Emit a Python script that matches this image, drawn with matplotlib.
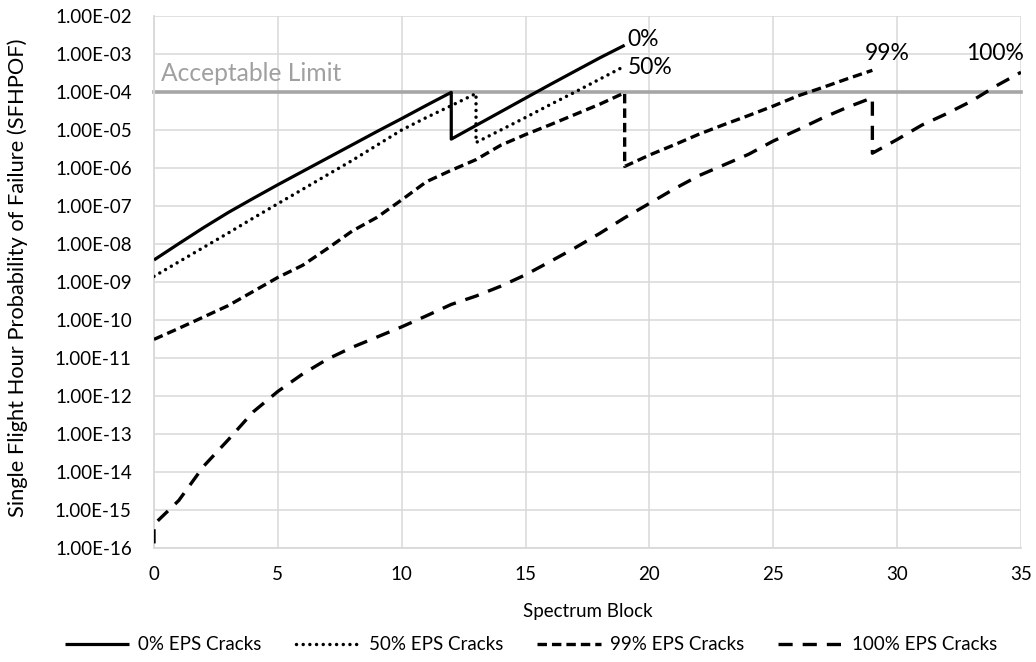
import matplotlib
matplotlib.use("Agg")
import matplotlib.pyplot as plt
from matplotlib.ticker import FixedLocator, FuncFormatter, NullLocator

plt.rcParams['font.family'] = ['Lato', 'DejaVu Sans']
plt.rcParams['lines.scale_dashes'] = False

# ---- data ----
x_0 = [0, 1, 2, 3, 4, 5, 6, 7, 8, 9, 10, 11, 12, 12, 13, 14, 15, 16, 17, 18, 19]
p_0 = [3.80e-9, 1.02e-8, 2.69e-8, 6.76e-8, 1.58e-7, 3.63e-7, 8.13e-7, 1.82e-6,
       4.07e-6, 9.12e-6, 2.00e-5, 4.47e-5, 9.8e-5, 5.75e-6, 1.32e-5, 3.02e-5,
       6.92e-5, 1.58e-4, 3.55e-4, 7.94e-4, 1.70e-3]

x_50 = [0, 1, 2, 3, 4, 5, 6, 7, 8, 9, 10, 11, 12, 13, 13, 14, 15, 16, 17, 18, 19]
p_50 = [1.41e-9, 3.39e-9, 8.13e-9, 1.95e-8, 4.79e-8, 1.15e-7, 2.75e-7, 6.61e-7,
        1.58e-6, 3.98e-6, 1.00e-5, 2.14e-5, 4.37e-5, 9.12e-5, 4.68e-6, 1.00e-5,
        2.14e-5, 4.68e-5, 1.00e-4, 2.19e-4, 4.79e-4]

x_99 = [0, 1, 2, 3, 4, 5, 6, 7, 8, 9, 10, 11, 12, 13, 14, 15, 16, 17, 18, 19,
        19, 20, 21, 22, 23, 24, 25, 26, 27, 28, 29]
p_99 = [3.09e-11, 6.03e-11, 1.20e-10, 2.40e-10, 5.62e-10, 1.32e-9, 2.75e-9,
        7.59e-9, 2.19e-8, 5.01e-8, 1.45e-7, 4.37e-7, 8.71e-7, 1.66e-6, 3.98e-6,
        7.59e-6, 1.38e-5, 2.57e-5, 4.79e-5, 9.55e-5,
        1.10e-6, 2.19e-6, 4.07e-6, 7.76e-6, 1.38e-5, 2.40e-5, 4.27e-5, 7.94e-5,
        1.32e-4, 2.24e-4, 3.72e-4]

x_100 = [0, 0, 1, 2, 3, 4, 5, 6, 7, 8, 9, 10, 11, 12, 13, 14, 15, 16, 17, 18,
         19, 20, 21, 22, 23, 24, 25, 26, 27, 28, 29, 29, 30, 31, 32, 33, 34, 35]
p_100 = [1.32e-16, 4.17e-16, 1.78e-15, 1.41e-14, 7.08e-14, 3.80e-13, 1.32e-12,
         3.80e-12, 9.33e-12, 1.91e-11, 3.55e-11, 6.61e-11, 1.29e-10, 2.57e-10,
         4.27e-10, 7.76e-10, 1.55e-9, 3.47e-9, 7.94e-9, 1.91e-8, 4.90e-8,
         1.17e-7, 2.82e-7, 6.31e-7, 1.20e-6, 2.29e-6, 5.13e-6, 1.02e-5, 2.09e-5,
         3.98e-5, 7.08e-5, 2.45e-6, 5.62e-6, 1.35e-5, 2.69e-5, 5.75e-5, 1.45e-4,
         3.31e-4]

series_names = ["0% EPS Cracks", "50% EPS Cracks", "99% EPS Cracks", "100% EPS Cracks"]
end_labels = ["0%", "50%", "99%", "100%"]
acceptable_limit = 1e-4
limit_label = "Acceptable Limit"
y_ticks = [10.0 ** e for e in range(-16, -1)]
x_ticks = [0, 5, 10, 15, 20, 25, 30, 35]
x_title = "Spectrum Block"
y_title = "Single Flight Hour Probability of Failure (SFHPOF)"

# ---- figure ----
W, H = 1036, 662
fig = plt.figure(figsize=(W / 100, H / 100), dpi=100)
ax = fig.add_axes([154 / W, 1 - 548 / H, (1021 - 154) / W, (548 - 16) / H])

grid_c = '#d9d9d9'
ax.set_yscale('log')
ax.set_ylim(1e-16, 1e-2)
ax.set_xlim(0, 35)
ax.yaxis.set_major_locator(FixedLocator(y_ticks))
ax.yaxis.set_minor_locator(NullLocator())
ax.xaxis.set_major_locator(FixedLocator(x_ticks))
ax.yaxis.set_major_formatter(FuncFormatter(lambda v, p: f"{v:.2E}"))
ax.grid(True, which='major', color=grid_c, lw=1.1)
ax.set_axisbelow(True)
for s in ['top', 'right']:
    ax.spines[s].set_visible(False)
for s in ['left', 'bottom']:
    ax.spines[s].set_color(grid_c)
    ax.spines[s].set_linewidth(1.3)
ax.tick_params(axis='both', length=0, labelsize=13.3, colors='black')
ax.tick_params(axis='y', pad=16)
ax.tick_params(axis='x', pad=13)

# limit line
ax.axhline(acceptable_limit, color='#a6a6a6', lw=2.6, zorder=2, clip_on=False)
lim_txt = ax.annotate(limit_label, xy=(0, acceptable_limit), xytext=(7, 11),
                      textcoords='offset pixels', fontsize=17.4, color='#a0a0a0',
                      va='baseline', ha='left')

l0, = ax.plot(x_0, p_0, color='black', lw=2.3, ls='-', zorder=4,
              solid_capstyle='butt', label=series_names[0])
l50, = ax.plot(x_50, p_50, color='black', lw=2.5, ls=(0, (0.01, 4.8)),
               dash_capstyle='round', zorder=4, label=series_names[1])
l99, = ax.plot(x_99, p_99, color='black', lw=2.4, ls=(0, (6.8, 3.6)),
               dash_capstyle='butt', zorder=4, label=series_names[2])
l100, = ax.plot(x_100, p_100, color='black', lw=2.4, ls=(0, (10.2, 7.2)),
                dash_capstyle='butt', zorder=4, label=series_names[3])

# end labels
lab_kw = dict(textcoords='offset pixels', fontsize=16.5, color='black')
t0 = ax.annotate(end_labels[0], xy=(x_0[-1], p_0[-1]), xytext=(3, 6),
                 ha='left', va='center', **lab_kw)
t50 = ax.annotate(end_labels[1], xy=(x_50[-1], p_50[-1]), xytext=(3, -1),
                  ha='left', va='center', **lab_kw)
t99 = ax.annotate(end_labels[2], xy=(x_99[-1], p_99[-1]), xytext=(-8, 17),
                  ha='left', va='center', **lab_kw)
t100 = ax.annotate(end_labels[3], xy=(x_100[-1], p_100[-1]), xytext=(3, 19),
                   ha='right', va='center', **lab_kw)

xl = fig.text(587.5 / W, 1 - 612 / H, x_title, ha='center', va='center', fontsize=13.5)
yl = fig.text(18 / W, 1 - 277.5 / H, y_title, ha='center', va='center',
              rotation=90, fontsize=15.0)

leg_kw = dict(loc='center', bbox_to_anchor=(531 / W, 1 - 645 / H), ncol=4,
              frameon=False, handlelength=3.4, handletextpad=0.5,
              columnspacing=1.8, borderaxespad=0, borderpad=0)
leg = fig.legend(handles=[l0, l50, l99, l100], fontsize=13.3, **leg_kw)

# ---- fit text sizes to the reference's measured extents (pixels) ----
renderer = fig.canvas.get_renderer()


def fit(artist, target, dim='w', n=3):
    for _ in range(n):
        bb = artist.get_window_extent(renderer)
        cur = bb.width if dim == 'w' else bb.height
        if cur > 0:
            artist.set_fontsize(artist.get_fontsize() * target / cur)


fit(yl, 480, 'h')
fit(lim_txt, 180, 'w')
fit(t50, 45, 'w')
for t in (t0, t99, t100):
    t.set_fontsize(t50.get_fontsize())

# tick labels: "1.00E-02" is about 77 px wide
for _ in range(3):
    fig.canvas.draw()
    tl = ax.get_yticklabels()[-1]
    w = tl.get_window_extent(renderer).width
    if w > 0:
        ax.tick_params(axis='both', labelsize=tl.get_fontsize() * 77 / w)

# legend: total width about 932 px
fs = 13.3
for _ in range(3):
    fig.canvas.draw()
    w = leg.get_window_extent(renderer).width
    fs = fs * 932 / w
    leg.remove()
    leg = fig.legend(handles=[l0, l50, l99, l100], fontsize=fs, **leg_kw)

fig.savefig('out.png', dpi=100)
